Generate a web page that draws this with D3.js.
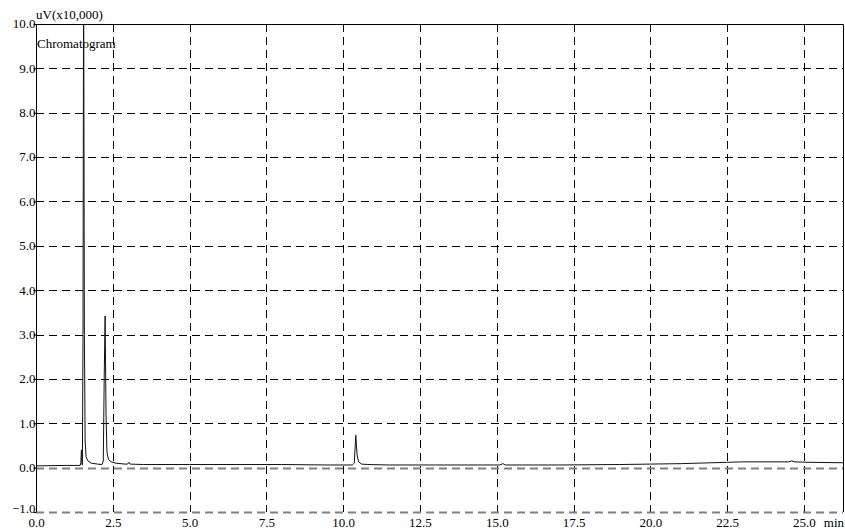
<!DOCTYPE html>
<html>
<head>
<meta charset="utf-8">
<script src="https://cdn.jsdelivr.net/npm/d3@7"></script>
<style>
  html, body { margin: 0; padding: 0; background: #fff; }
  svg { display: block; }
  svg text { font-family: "Liberation Serif", "Times New Roman", Times, "DejaVu Serif", serif !important; font-size: 13px; fill: #000; }
</style>
</head>
<body>
<svg id="chart" width="845" height="529"></svg>
<script>
// Retention time (min) and detector signal (uV x10,000)
const times = [
  0.0, 1.0, 1.44, 1.46, 1.48, 1.495, 1.51, 1.53, 1.55, 1.575, 1.60, 1.63, 1.68, 1.8, 2.0,
  2.15, 2.19, 2.22, 2.25, 2.28, 2.31, 2.36, 2.45, 2.6, 2.9, 2.98, 3.02, 3.06, 3.5, 5.0,
  7.0, 8.0, 9.5, 10.3, 10.36, 10.41, 10.45, 10.5, 10.6, 10.8, 11.5, 13.0, 15.1, 15.2, 15.28,
  17.0, 19.0, 20.0, 21.0, 22.0, 22.5, 23.0, 24.5, 24.6, 24.7, 25.2, 26.3
];
const signal = [
  0.04, 0.05, 0.05, 0.12, 0.40, 0.10, 0.06, 3.0, 11.5, 3.0, 0.6, 0.25, 0.16, 0.10, 0.08,
  0.07, 0.15, 2.0, 3.42, 1.2, 0.35, 0.18, 0.13, 0.10, 0.08, 0.08, 0.12, 0.08, 0.07, 0.07,
  0.07, 0.07, 0.06, 0.06, 0.10, 0.73, 0.30, 0.13, 0.08, 0.07, 0.06, 0.06, 0.06, 0.09, 0.06,
  0.06, 0.07, 0.08, 0.09, 0.11, 0.12, 0.13, 0.13, 0.15, 0.13, 0.12, 0.11
];
const xTicks = [0, 2.5, 5, 7.5, 10, 12.5, 15, 17.5, 20, 22.5, 25];
const yTicks = [-1, 0, 1, 2, 3, 4, 5, 6, 7, 8, 9, 10];
const xUnit = "min";
const yUnit = "uV(x10,000)";
const traceName = "Chromatogram";

const svg = d3.select("#chart");
const plotLeft = 36, plotRight = 843, plotTop = 24, plotBottom = 512;

const x = d3.scaleLinear().domain([0, 26.27]).range([plotLeft, plotRight]);
const y = d3.scaleLinear().domain([-1, 10]).range([plotBottom, plotTop]);

svg.append("clipPath").attr("id", "plotClip")
  .append("rect").attr("x", plotLeft).attr("y", plotTop)
  .attr("width", plotRight - plotLeft).attr("height", plotBottom - plotTop);

// dashed grid
svg.append("g").selectAll("line")
  .data(xTicks.filter(t => t > 0))
  .join("line")
  .attr("x1", d => Math.round(x(d)) + 0.5).attr("x2", d => Math.round(x(d)) + 0.5)
  .attr("y1", plotTop).attr("y2", plotBottom)
  .attr("stroke", "#000").attr("stroke-width", 1).attr("stroke-dasharray", "8,5");

svg.append("g").selectAll("line")
  .data(yTicks.filter(t => t > -1 && t < 10))
  .join("line")
  .attr("x1", plotLeft).attr("x2", plotRight)
  .attr("y1", d => Math.round(y(d)) + 0.5).attr("y2", d => Math.round(y(d)) + 0.5)
  .attr("stroke", d => d === 0 ? "#808080" : "#000")
  .attr("stroke-width", d => d === 0 ? 1.8 : 1)
  .attr("stroke-dasharray", "8,5");

// bottom edge
svg.append("line")
  .attr("x1", plotLeft).attr("x2", plotRight)
  .attr("y1", Math.round(y(-1)) + 0.5).attr("y2", Math.round(y(-1)) + 0.5)
  .attr("stroke", "#808080").attr("stroke-width", 1.8).attr("stroke-dasharray", "8,5");

// frame: top, left, right
svg.append("path")
  .attr("d", `M${plotLeft + 0.5},${plotBottom} V${plotTop + 0.5} H${plotRight + 0.5} V${plotBottom}`)
  .attr("fill", "none").attr("stroke", "#000").attr("stroke-width", 1);

// axes
const yAxis = d3.axisLeft(y).tickValues(yTicks).tickSize(3).tickFormat(d3.format(".1f"));
const gy = svg.append("g").attr("transform", `translate(${plotLeft + 0.5},0)`).call(yAxis);
gy.attr("font-family", null).attr("font-size", null);
gy.select(".domain").remove();
gy.selectAll("text").attr("x", -1).attr("dy", "0.3em")
  .attr("y", d => d === -1 ? -3 : 0);

const xAxis = d3.axisBottom(x).tickValues(xTicks).tickSize(0).tickFormat(d3.format(".1f"));
const gx = svg.append("g").attr("transform", `translate(0,${plotBottom})`).call(xAxis);
gx.attr("font-family", null).attr("font-size", null);
gx.select(".domain").remove();
gx.selectAll("text").attr("y", 6).attr("dy", "0.71em");

// trace
const line = d3.line().x((d, i) => x(times[i])).y(d => y(d));
svg.append("path")
  .datum(signal)
  .attr("clip-path", "url(#plotClip)")
  .attr("d", line)
  .attr("fill", "none").attr("stroke", "#111").attr("stroke-width", 1);

// labels
svg.append("text").attr("x", 36).attr("y", 19).text(yUnit);
svg.append("text").attr("x", 37).attr("y", 48).text(traceName);
svg.append("text").attr("x", 844).attr("y", 527).attr("text-anchor", "end").text(xUnit);
</script>
</body>
</html>
